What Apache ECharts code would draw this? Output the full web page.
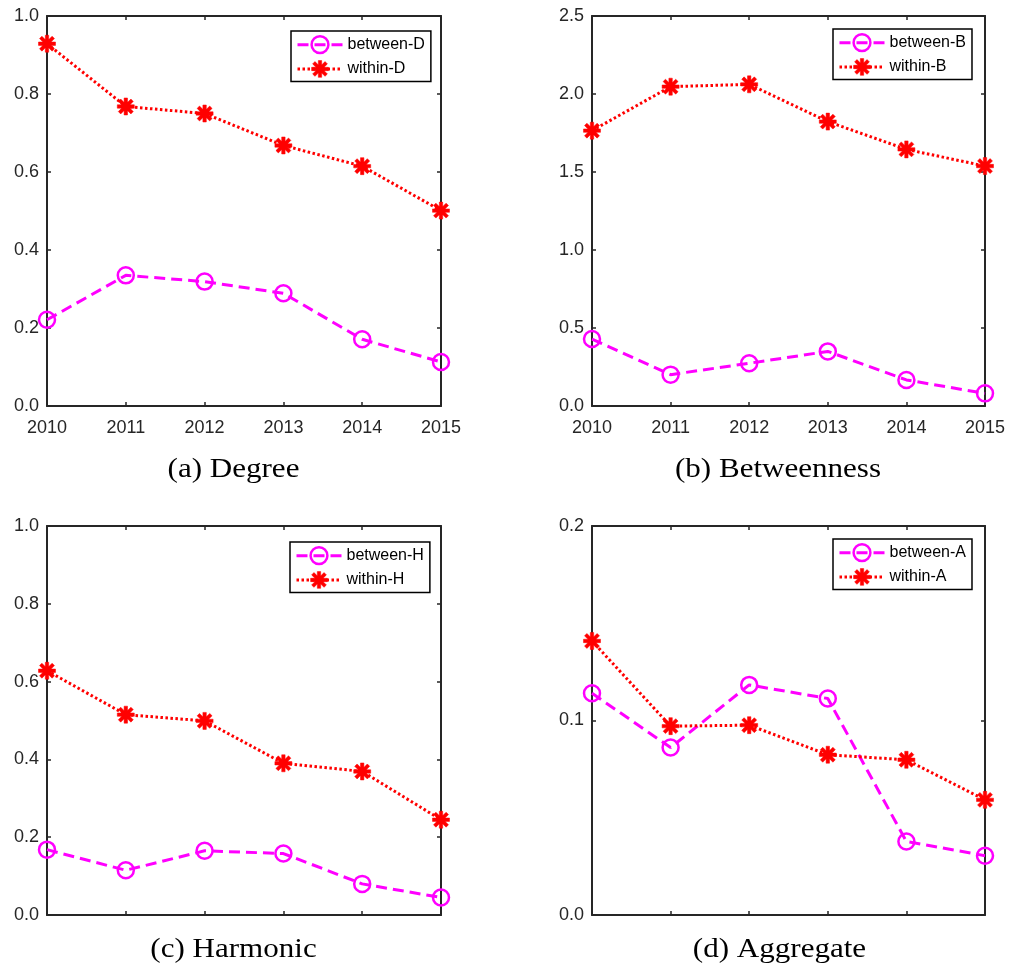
<!DOCTYPE html>
<html>
<head>
<meta charset="utf-8">
<script src="https://cdn.jsdelivr.net/npm/echarts@6/dist/echarts.min.js"></script>
<style>
html,body{margin:0;padding:0;background:#fff;}
#chart{width:1011px;height:971px;}
</style>
</head>
<body>
<div id="chart"></div>
<script>
// ---- Data ----
var years = ['2010', '2011', '2012', '2013', '2014', '2015'];

var betweenD = [0.221, 0.335, 0.319, 0.289, 0.171, 0.113];
var withinD  = [0.929, 0.768, 0.750, 0.668, 0.615, 0.501];

var betweenB = [0.429, 0.201, 0.274, 0.350, 0.167, 0.081];
var withinB  = [1.765, 2.047, 2.062, 1.823, 1.645, 1.538];

var betweenH = [0.168, 0.115, 0.165, 0.158, 0.080, 0.045];
var withinH  = [0.628, 0.515, 0.499, 0.390, 0.369, 0.245];

var betweenA = [0.1140, 0.0861, 0.1183, 0.1113, 0.0378, 0.0305];
var withinA  = [0.1409, 0.0971, 0.0976, 0.0824, 0.0798, 0.0592];

var panelTitles = ['(a) Degree', '(b) Betweenness', '(c) Harmonic', '(d) Aggregate'];
var betweenNames = ['between-D', 'between-B', 'between-H', 'between-A'];
var withinNames  = ['within-D', 'within-B', 'within-H', 'within-A'];
var yMaxes = [1.0, 2.5, 1.0, 0.2];
var yIntervals = [0.2, 0.5, 0.2, 0.1];

// ---- Styling ----
var AXIS_COLOR = '#262626';
var MAGENTA = '#ff00ff';
var RED = '#ff0000';
var SANS = '"Liberation Sans", Arial, sans-serif';
var SERIF = '"Liberation Serif", "Times New Roman", serif';
var STAR = 'path://M0 40 L100 40 L100 60 L0 60 Z M40 0 L60 0 L60 100 L40 100 Z ' +
  'M20 6 L94 80 L80 94 L6 20 Z ' +
  'M80 6 L94 20 L20 94 L6 80 Z';

var grids = [
  {left: 47, top: 16, width: 394, height: 390},
  {left: 592, top: 16, width: 393, height: 390},
  {left: 47, top: 526, width: 394, height: 389},
  {left: 592, top: 526, width: 393, height: 389}
];
var legendPos = [
  {left: 291, top: 31},
  {left: 833, top: 29},
  {left: 290, top: 542},
  {left: 833, top: 539}
];
var showXLabels = [true, true, false, false];
var titlePos = [
  {x: 233.5, y: 469.5},
  {x: 778, y: 469.5},
  {x: 233.5, y: 949.5},
  {x: 779.5, y: 949.5}
];
var betweenData = [betweenD, betweenB, betweenH, betweenA];
var withinData = [withinD, withinB, withinH, withinA];

var xAxes = [], yAxes = [], series = [], legends = [], graphics = [];

grids.forEach(function (g, i) {
  ['bottom', 'top'].forEach(function (pos) {
    xAxes.push({
      type: 'category', gridIndex: i, data: years, boundaryGap: false, position: pos,
      axisLine: {show: true, onZero: false, lineStyle: {color: AXIS_COLOR, width: 2}},
      axisTick: {show: true, inside: true, length: 4, interval: 0, lineStyle: {color: AXIS_COLOR, width: 1.5}},
      axisLabel: {show: pos === 'bottom' && showXLabels[i], interval: 0, color: AXIS_COLOR,
                  fontSize: 18, fontFamily: SANS, margin: 13},
      splitLine: {show: false}
    });
  });
  ['left', 'right'].forEach(function (pos) {
    yAxes.push({
      type: 'value', gridIndex: i, min: 0, max: yMaxes[i], interval: yIntervals[i], position: pos,
      axisLine: {show: true, onZero: false, lineStyle: {color: AXIS_COLOR, width: 2}},
      axisTick: {show: true, inside: true, length: 4, lineStyle: {color: AXIS_COLOR, width: 1.5}},
      axisLabel: {show: pos === 'left', color: AXIS_COLOR, fontSize: 18, fontFamily: SANS, margin: 8,
                  formatter: function (v) { return v.toFixed(1); }},
      splitLine: {show: false}
    });
  });

  var circleStyle = {color: 'rgba(0,0,0,0)', borderColor: MAGENTA, borderWidth: 2.5};
  var starStyle = {color: RED, borderColor: RED, borderWidth: 0.5};
  var dashLine = {color: MAGENTA, width: 3, type: [11, 6]};
  var dotLine = {color: RED, width: 3, type: [2.5, 2.5]};

  series.push({
    name: betweenNames[i], type: 'line', xAxisIndex: 2 * i, yAxisIndex: 2 * i,
    data: betweenData[i], symbol: 'circle', symbolSize: 16, clip: false,
    lineStyle: dashLine, itemStyle: circleStyle, z: 3
  });
  series.push({
    name: withinNames[i], type: 'line', xAxisIndex: 2 * i, yAxisIndex: 2 * i,
    data: withinData[i], symbol: STAR, symbolSize: 17, clip: false,
    lineStyle: dotLine, itemStyle: starStyle, z: 3
  });

  legends.push({
    left: legendPos[i].left, top: legendPos[i].top, orient: 'vertical',
    itemWidth: 45, itemHeight: 21, itemGap: 6,
    padding: [4, 6, 4, 5],
    backgroundColor: '#fff', borderColor: '#000', borderWidth: 1.5, borderRadius: 0,
    textStyle: {color: '#000', fontSize: 16, fontFamily: SANS},
    data: [
      {name: betweenNames[i], itemStyle: circleStyle, lineStyle: dashLine},
      {name: withinNames[i], itemStyle: starStyle, lineStyle: dotLine}
    ],
    selectedMode: false
  });

  graphics.push({
    type: 'text', x: titlePos[i].x, y: titlePos[i].y, scaleX: 1.15,
    style: {text: panelTitles[i], x: 0, y: 0, align: 'center', verticalAlign: 'middle',
            font: '27px ' + SERIF, fill: '#000'}
  });
});

var chart = echarts.init(document.getElementById('chart'), null, {renderer: 'canvas'});
chart.setOption({
  animation: false,
  backgroundColor: '#fff',
  grid: grids,
  xAxis: xAxes,
  yAxis: yAxes,
  legend: legends,
  series: series,
  graphic: graphics
});
</script>
</body>
</html>
